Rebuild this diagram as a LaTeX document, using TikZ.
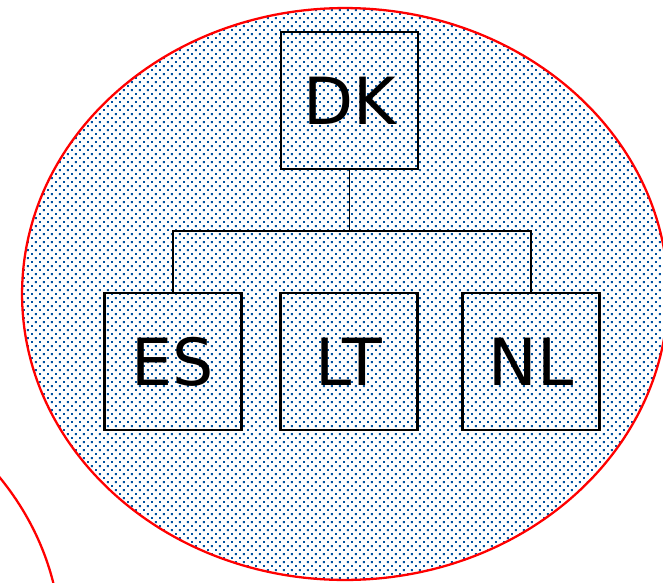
\documentclass[tikz,border=0pt]{standalone}
\usepackage{fontspec}
\usepackage{tikz}
\usetikzlibrary{patterns, positioning, calc}
\usepackage{xcolor}
\newfontfamily\labelfont{DejaVu Sans}
\definecolor{dotblue}{RGB}{0,82,160}

% staggered square dots, 8 x 8 px tile
\pgfdeclarepatternformonly{stagdots}{\pgfpointorigin}{\pgfpoint{4.55pt}{4.55pt}}{\pgfpoint{4.55pt}{4.55pt}}{
    \pgfpathrectangle{\pgfpoint{0pt}{0pt}}{\pgfpoint{1pt}{1pt}}
    \pgfpathrectangle{\pgfpoint{2.275pt}{2.275pt}}{\pgfpoint{1pt}{1pt}}
    \pgfusepath{fill}
}

\begin{document}
\begin{tikzpicture}[x=0.02cm, y=-0.02cm,
    country/.style={draw, line width=1.3pt, minimum size=2.74cm, inner sep=0pt, font=\labelfont\fontsize{37}{44}\selectfont},
    cluster/.style={draw=red, line width=1.3pt, pattern=stagdots, pattern color=dotblue}]

    \useasboundingbox (0,0) rectangle (663,582);
    \clip (0,0) rectangle (663,582);

    % --- clusters ---
    \draw[cluster] (345,294) ellipse [x radius=6.46cm, y radius=5.72cm];
    \draw[draw=red, line width=1.3pt] (-262,645) ellipse [x radius=6.46cm, y radius=5.72cm];

    % --- countries ---
    \node[country] (DK) at (349.5,100.5) {DK};
    \node[country] (ES) at (173,361.5) {ES};
    \node[country] (LT) at (349,361.5) {LT};
    \node[country] (NL) at (531,361.5) {NL};

    % --- tree links ---
    \coordinate (bus) at (349.5,231);
    \draw[line width=0.9pt] (DK) -- (bus);
    \draw[line width=0.9pt] (bus) -| (ES.north);
    \draw[line width=0.9pt] (bus) -| (NL.north);

\end{tikzpicture}
\end{document}
